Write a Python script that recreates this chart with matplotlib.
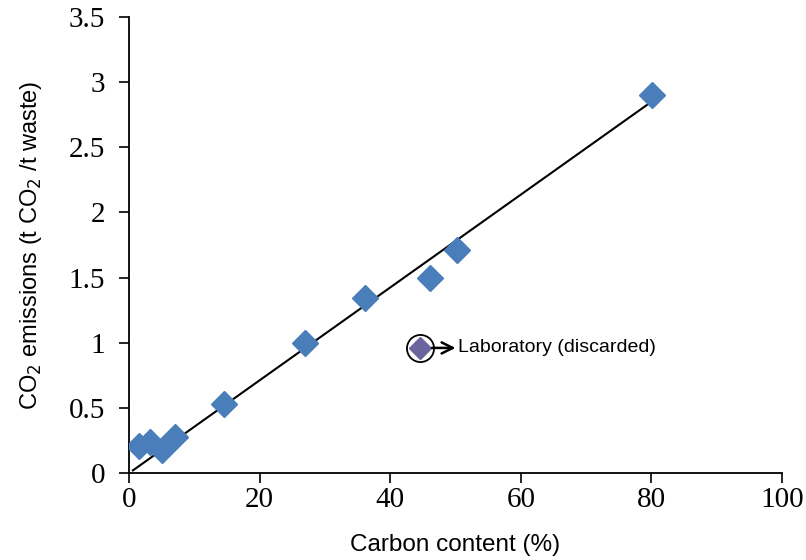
import matplotlib
matplotlib.use("Agg")
import matplotlib.pyplot as plt

# data
carbon = [1.5, 3.2, 5.1, 7.0, 14.5, 27.0, 36.1, 46.1, 50.2, 80.1]
co2 = [0.21, 0.24, 0.18, 0.28, 0.53, 1.00, 1.34, 1.50, 1.71, 2.90]

lab_carbon = [44.6]
lab_co2 = [0.96]

trend_x = [0.6, 80.3]
trend_y = [0.02, 2.86]

xticks = [0, 20, 40, 60, 80, 100]
yticks = [0, 0.5, 1, 1.5, 2, 2.5, 3, 3.5]
ytick_labels = ["0", "0.5", "1", "1.5", "2", "2.5", "3", "3.5"]

plt.rcParams["font.family"] = "Liberation Serif"

fig = plt.figure(figsize=(8.06, 5.6), dpi=100)
ax = fig.add_axes([129 / 806, 1 - 473 / 560, 653 / 806, 456 / 560])

ax.plot(trend_x, trend_y, color="black", lw=1.5, zorder=2)
ax.plot(carbon, co2, ls="none", marker="D", ms=13, color="#4a7ebb", zorder=3)
ax.plot(lab_carbon, lab_co2, ls="none", marker="D", ms=11, color="#6b659e", zorder=3)
ax.plot(lab_carbon, lab_co2, ls="none", marker="o", ms=19.5, mfc="none", mec="black", mew=1.3, zorder=4)

# arrow from the circled point towards the note
ax.annotate("", xy=(50.0, lab_co2[0]), xytext=(46.4, lab_co2[0]),
            arrowprops=dict(arrowstyle="->", color="black", lw=1.8,
                            shrinkA=0, shrinkB=0, mutation_scale=20))
ax.text(50.4, lab_co2[0], "Laboratory (discarded)", va="center", ha="left",
        fontsize=14, family="Liberation Sans")

ax.set_xlim(0, 100)
ax.set_ylim(0, 3.5)
ax.set_xticks(xticks)
ax.set_yticks(yticks)
ax.set_yticklabels(ytick_labels)
for s in ["top", "right"]:
    ax.spines[s].set_visible(False)
for s in ["left", "bottom"]:
    ax.spines[s].set_linewidth(1.3)
ax.tick_params(direction="out", length=7, width=1.2, labelsize=21)
ax.tick_params(axis="x", pad=3)
ax.tick_params(axis="y", pad=10)

ax.set_xlabel("Carbon content (%)", fontsize=17.5, family="Liberation Sans", labelpad=15)
ax.set_ylabel("CO$_2$ emissions (t CO$_2$ /t waste)", fontsize=17, family="Liberation Sans", labelpad=18)

fig.savefig("out.png", dpi=100)
